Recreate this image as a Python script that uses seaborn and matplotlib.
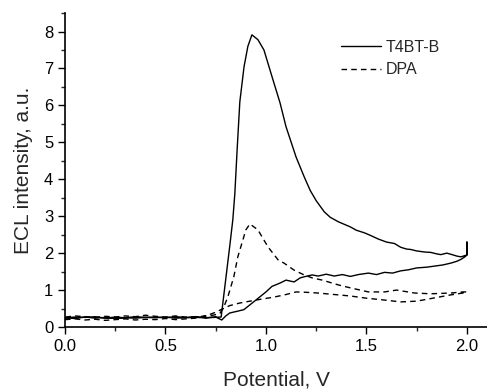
import pandas as pd
import matplotlib
matplotlib.use('Agg')
import matplotlib.pyplot as plt
from matplotlib.ticker import MultipleLocator
import seaborn as sns

# T4BT-B loop (forward sweep, spike at 2.0 V, reverse sweep)
t4bt_x = [0.0, 0.05, 0.1, 0.15, 0.2, 0.25, 0.3, 0.35, 0.4, 0.45, 0.5, 0.55, 0.6, 0.65, 0.7, 0.75, 0.78,
          0.8, 0.82, 0.86, 0.89, 0.92, 0.95, 1.0, 1.03, 1.07, 1.1, 1.14, 1.17, 1.19, 1.23, 1.26, 1.3, 1.34,
          1.38, 1.42, 1.46, 1.51, 1.55, 1.59, 1.63, 1.67, 1.71, 1.75, 1.8, 1.84, 1.88, 1.92, 1.95, 1.97,
          1.99, 2.0, 2.0, 2.0, 1.97, 1.95, 1.92, 1.9, 1.87, 1.85, 1.82, 1.79, 1.75, 1.72, 1.7, 1.67, 1.64,
          1.6, 1.56, 1.52, 1.49, 1.45, 1.42, 1.39, 1.36, 1.32, 1.29, 1.25, 1.22, 1.19, 1.15, 1.1, 1.07,
          1.03, 0.99, 0.96, 0.93, 0.91, 0.891, 0.87, 0.857, 0.845, 0.835, 0.82, 0.8, 0.777, 0.7, 0.65,
          0.6, 0.55, 0.5, 0.45, 0.4, 0.35, 0.3, 0.25, 0.2, 0.15, 0.1, 0.05, 0.0]
t4bt_y = [0.25, 0.23, 0.27, 0.24, 0.26, 0.23, 0.25, 0.24, 0.26, 0.25, 0.27, 0.24, 0.25, 0.26, 0.25, 0.27, 0.19,
          0.3, 0.38, 0.43, 0.47, 0.6, 0.73, 0.95, 1.1, 1.19, 1.27, 1.22, 1.33, 1.36, 1.41, 1.38, 1.43, 1.38,
          1.42, 1.37, 1.42, 1.46, 1.42, 1.48, 1.46, 1.52, 1.55, 1.6, 1.62, 1.65, 1.68, 1.73, 1.78, 1.83,
          1.9, 1.95, 2.3, 1.95, 1.9, 1.92, 1.97, 2.0, 1.96, 1.98, 2.02, 2.03, 2.06, 2.1, 2.11, 2.16, 2.26,
          2.3, 2.38, 2.48, 2.55, 2.62, 2.71, 2.78, 2.85, 2.97, 3.12, 3.42, 3.7, 4.07, 4.6, 5.42, 6.07,
          6.78, 7.5, 7.78, 7.91, 7.6, 7.05, 6.1, 4.85, 3.6, 2.9, 2.2, 1.3, 0.27, 0.25, 0.28,
          0.26, 0.28, 0.25, 0.27, 0.26, 0.28, 0.25, 0.27, 0.24, 0.28, 0.26, 0.27, 0.25]

# DPA loop
dpa_x = [0.0, 0.05, 0.1, 0.15, 0.2, 0.25, 0.3, 0.35, 0.4, 0.45, 0.5, 0.55, 0.6, 0.65, 0.7, 0.75, 0.78,
         0.82, 0.87, 0.95, 1.04, 1.1, 1.15, 1.2, 1.26, 1.34, 1.42, 1.5, 1.59, 1.67, 1.75, 1.84, 1.92, 1.98,
         2.0, 1.98, 1.92, 1.82, 1.74, 1.65, 1.59, 1.51, 1.42, 1.36, 1.28, 1.23, 1.19, 1.14, 1.09, 1.06,
         1.01, 0.96, 0.92, 0.9, 0.86, 0.84, 0.81, 0.79, 0.77, 0.72, 0.65, 0.6, 0.55, 0.5, 0.45, 0.4, 0.35,
         0.3, 0.25, 0.2, 0.15, 0.1, 0.05, 0.0]
dpa_y = [0.2, 0.22, 0.19, 0.21, 0.18, 0.2, 0.22, 0.19, 0.21, 0.2, 0.23, 0.2, 0.22, 0.24, 0.3, 0.4, 0.48,
         0.58, 0.65, 0.73, 0.81, 0.88, 0.95, 0.94, 0.92, 0.88, 0.84, 0.78, 0.73, 0.68, 0.7, 0.79, 0.87, 0.92,
         0.95, 0.95, 0.92, 0.9, 0.92, 1.0, 0.95, 0.95, 1.06, 1.14, 1.27, 1.33, 1.41, 1.54, 1.73, 1.82,
         2.17, 2.63, 2.79, 2.63, 1.9, 1.36, 0.81, 0.54, 0.36, 0.3, 0.28, 0.27, 0.3, 0.27, 0.29, 0.32, 0.28,
         0.3, 0.27, 0.29, 0.26, 0.28, 0.3, 0.27]

df = pd.concat([
    pd.DataFrame({'Potential': t4bt_x, 'ECL': t4bt_y, 'Sample': 'T4BT-B'}),
    pd.DataFrame({'Potential': dpa_x, 'ECL': dpa_y, 'Sample': 'DPA'}),
], ignore_index=True)

sns.set_style('ticks')
plt.rcParams['font.family'] = ['Liberation Sans', 'DejaVu Sans']

fig = plt.figure(figsize=(4.87, 3.9), dpi=100)
ax = fig.add_axes([0.1335, 0.1615, 0.8665, 0.805])

sns.lineplot(data=df, x='Potential', y='ECL', hue='Sample', style='Sample',
             palette=['black', 'black'], dashes={'T4BT-B': '', 'DPA': (4, 3)},
             sort=False, estimator=None, linewidth=1.0, ax=ax)

ax.set_xlim(0, 2.1)
ax.set_ylim(0, 8.5)
ax.xaxis.set_major_locator(MultipleLocator(0.5))
ax.xaxis.set_minor_locator(MultipleLocator(0.25))
ax.yaxis.set_major_locator(MultipleLocator(1))
ax.yaxis.set_minor_locator(MultipleLocator(0.5))
ax.xaxis.set_major_formatter(matplotlib.ticker.FormatStrFormatter('%.1f'))
ax.tick_params(which='major', direction='out', length=5, width=1, labelsize=12, colors='black')
ax.tick_params(which='minor', direction='out', length=3, width=1)
sns.despine(ax=ax)
for s in ['left', 'bottom']:
    ax.spines[s].set_linewidth(1.2)
    ax.spines[s].set_color('black')

ax.set_xlabel('Potential, V', fontsize=15, labelpad=12)
ax.set_ylabel('ECL intensity, a.u.', fontsize=15, labelpad=8)

ax.legend(loc='upper left', bbox_to_anchor=(0.62, 0.96), frameon=False, fontsize=11.5,
          handlelength=2.5, handletextpad=0.3, labelspacing=0.45)

fig.savefig('out.png', dpi=100)
